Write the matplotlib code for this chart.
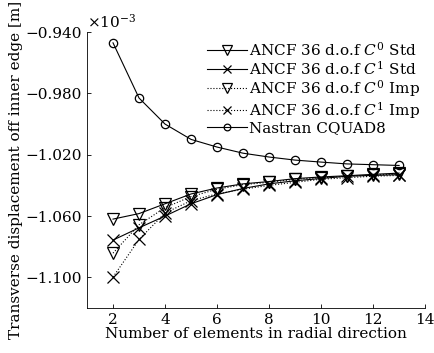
import numpy as np
import matplotlib.pyplot as plt

plt.rcParams['font.family'] = ['DejaVu Serif']
plt.rcParams['mathtext.fontset'] = 'dejavuserif'

# number of elements in radial direction
n_elem = [2, 3, 4, 5, 6, 7, 8, 9, 10, 11, 12, 13]

# transverse displacement, in units of 1e-3 m
c0_std = [-1.062, -1.0584, -1.052, -1.0456, -1.0417, -1.039, -1.0375, -1.0356, -1.0345, -1.0337, -1.0328, -1.032]
c1_std = [-1.0757, -1.0677, -1.060, -1.052, -1.046, -1.042, -1.039, -1.037, -1.0355, -1.034, -1.0335, -1.033]
c0_imp = [-1.0842, -1.0657, -1.0545, -1.0473, -1.0425, -1.0395, -1.038, -1.036, -1.035, -1.034, -1.0333, -1.0325]
c1_imp = [-1.0998, -1.0753, -1.058, -1.050, -1.0455, -1.0425, -1.040, -1.038, -1.036, -1.035, -1.034, -1.0335]
nastran = [-0.947, -0.983, -1.000, -1.010, -1.015, -1.019, -1.0215, -1.0235, -1.0248, -1.026, -1.0265, -1.027]

yticks = [-1.100, -1.060, -1.020, -0.980, -0.940]
xticks = [2, 4, 6, 8, 10, 12, 14]

fig = plt.figure(figsize=(4.34, 3.53), dpi=100)
ax = fig.add_axes([0.2005, 0.1275, 0.779, 0.7815])

lw = 0.8
ax.plot(n_elem, c0_std, '-', color='k', lw=lw, marker='v', ms=9, mfc='none', mew=0.9,
        label='ANCF 36 d.o.f $C^0$ Std')
ax.plot(n_elem, c1_std, '-', color='k', lw=lw, marker='x', ms=8, mew=0.9,
        label='ANCF 36 d.o.f $C^1$ Std')
ax.plot(n_elem, c0_imp, ':', color='k', lw=lw, marker='v', ms=9, mfc='none', mew=0.9,
        label='ANCF 36 d.o.f $C^0$ Imp')
ax.plot(n_elem, c1_imp, ':', color='k', lw=lw, marker='x', ms=8, mew=0.9,
        label='ANCF 36 d.o.f $C^1$ Imp')
ax.plot(n_elem, nastran, '-', color='k', lw=lw, marker='o', ms=6, mfc='none', mew=0.9,
        label='Nastran CQUAD8')

ax.set_xlim(1, 14)
ax.set_ylim(-1.12, -0.94)
ax.set_xticks(xticks)
ax.set_yticks(yticks)
ax.set_yticklabels(['\u2212%.3f' % abs(v) for v in yticks])
ax.tick_params(direction='in', labelsize=11, length=3, width=0.6)
for s in ['top', 'right']:
    ax.spines[s].set_visible(False)
for s in ['left', 'bottom']:
    ax.spines[s].set_linewidth(0.6)

ax.text(0.0, 1.005, r'$\times 10^{-3}$', transform=ax.transAxes, fontsize=11,
        ha='left', va='bottom')

ax.set_xlabel('Number of elements in radial direction', fontsize=11, labelpad=0)
ax.set_ylabel('Transverse displacement off inner edge [m]', fontsize=11, labelpad=2)

ax.legend(loc='upper right', bbox_to_anchor=(0.985, 0.906), bbox_transform=fig.transFigure,
          frameon=False, fontsize=11, markerscale=0.8,
          handlelength=2.6, handletextpad=0.1, labelspacing=0.05, borderpad=0)

fig.savefig('out.png', dpi=100)
